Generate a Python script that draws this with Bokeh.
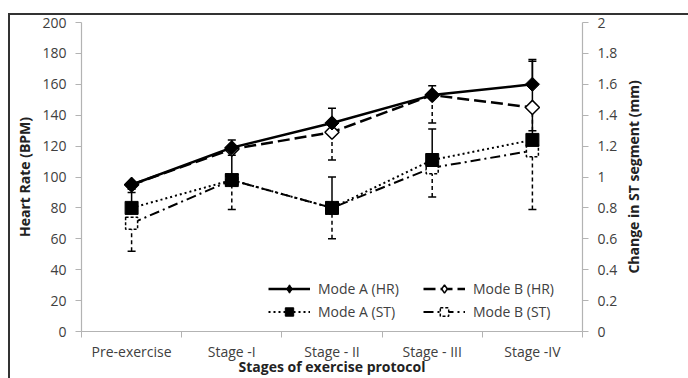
import math
from bokeh.plotting import figure
from bokeh.layouts import row
from bokeh.models import (Range1d, LinearAxis, FixedTicker, Whisker, ColumnDataSource,
                          Legend, LegendItem, TeeHead)
from bokeh.embed import file_html
from bokeh.resources import INLINE

stages = ["Pre-exercise", "Stage -I", "Stage - II", "Stage - III", "Stage -IV"]
hr_a = [95, 119, 135, 153, 160]
hr_b = [95, 118, 129, 153, 145]
st_a = [0.80, 0.98, 0.80, 1.11, 1.24]
st_b = [0.70, 0.98, 0.80, 1.06, 1.17]
hr_a_err = [2, 5, 9.5, 6, 16]        # plus error bars
hr_b_err = [3, 4, 18, 18, 15]        # minus error bars
st_a_err = [0.10, 0.20, 0.20, 0.20, 0.51]  # plus
st_b_err = [0.18, 0.19, 0.20, 0.19, 0.38]  # minus
hr_ticks = [0, 20, 40, 60, 80, 100, 120, 140, 160, 180, 200]
st_ticks = [0, 0.2, 0.4, 0.6, 0.8, 1, 1.2, 1.4, 1.6, 1.8, 2]
st_labels = ["0", "0.2", "0.4", "0.6", "0.8", "1", "1.2", "1.4", "1.6", "1.8", "2"]
left_title = "Heart Rate (BPM)"
right_title = "Change in ST segment (mm)"
x_title = "Stages of exercise protocol"

FONT = "Open Sans"
TXT = "#404040"
AX = "#b3b3b3"
TITLE_C = "#222222"

xs = [i + 0.5 for i in range(len(stages))]
bounds = list(range(len(stages) + 1))

p = figure(width=620, height=378, x_range=Range1d(0, len(stages)), y_range=Range1d(0, 200),
           output_backend="svg", toolbar_location=None,
           min_border_left=81, min_border_top=22, min_border_right=38, min_border_bottom=46)
p.extra_y_ranges = {"st": Range1d(0, 2)}
p.grid.visible = False
p.outline_line_color = None
p.border_fill_alpha = 0

# left axis
ya = p.yaxis[0]
ya.ticker = FixedTicker(ticks=hr_ticks)
ya.axis_label = left_title
# bottom axis
xa = p.xaxis[0]
xa.ticker = FixedTicker(ticks=xs, minor_ticks=bounds)
xa.major_label_overrides = {x: s for x, s in zip(xs, stages)}
xa.major_tick_line_color = None
xa.major_tick_out = 0
xa.major_tick_in = 0
xa.minor_tick_out = 6
xa.minor_tick_in = 0
xa.minor_tick_line_color = AX
xa.axis_label = x_title
xa.major_label_standoff = 4
xa.axis_label_standoff = -7
# right axis (ST)
ra = LinearAxis(y_range_name="st", ticker=FixedTicker(ticks=st_ticks),
                major_label_overrides={t: s for t, s in zip(st_ticks, st_labels)})
p.add_layout(ra, "right")

for ax in [ya, xa, ra]:
    ax.axis_line_color = AX
    ax.axis_line_width = 1.2
    ax.major_label_text_font = FONT
    ax.major_label_text_font_size = "14px"
    ax.major_label_text_color = TXT
    ax.axis_label_text_font = FONT
    ax.axis_label_text_font_size = "14px"
    ax.axis_label_text_font_style = "bold"
    ax.axis_label_text_color = TITLE_C
for ax in [ya, ra]:
    ax.major_tick_line_color = AX
    ax.major_tick_out = 6
    ax.major_tick_in = 0
    ax.minor_tick_line_color = None
    ax.major_label_standoff = 9
ya.axis_label_standoff = 5

# error bars
def whisk(y, err, plus, dash, rng):
    if plus:
        lo = list(y)
        hi = [v + e for v, e in zip(y, err)]
    else:
        lo = [v - e for v, e in zip(y, err)]
        hi = list(y)
    src = ColumnDataSource(dict(x=xs, lo=lo, hi=hi))
    head = TeeHead(size=8, line_width=1.5, line_color="black")
    w = Whisker(source=src, base="x", lower="lo", upper="hi", dimension="height",
                line_color="black", line_width=1.5, line_dash=dash,
                upper_head=head if plus else None, lower_head=None if plus else head)
    if rng:
        w.y_range_name = rng
    p.add_layout(w)

whisk(st_b, st_b_err, False, "4 3", "st")
whisk(st_a, st_a_err, True, "solid", "st")
whisk(hr_b, hr_b_err, False, "4 3", None)
whisk(hr_a, hr_a_err, True, "solid", None)

# ST series (right axis)
l_stb = p.line(xs, st_b, y_range_name="st", line_color="black", line_width=2, line_dash="10 4 2 4")
m_stb = p.scatter(xs, st_b, y_range_name="st", marker="square", size=12, fill_color="white",
                  line_color="black", line_width=1.5, line_dash="3 2")
l_sta = p.line(xs, st_a, y_range_name="st", line_color="black", line_width=2, line_dash="2 3")
m_sta = p.scatter(xs, st_a, y_range_name="st", marker="square", size=13, fill_color="black",
                  line_color="black")
# HR series (left axis): diamond proxies (for the legend key) under rotated squares
l_hrb = p.line(xs, hr_b, line_color="black", line_width=2.5, line_dash="12 5")
k_hrb = p.scatter(xs, hr_b, marker="diamond", size=11, fill_color="white",
                  line_color="black", line_width=1.5)
m_hrb = p.scatter(xs, hr_b, marker="square", angle=math.pi / 4, size=10, fill_color="white",
                  line_color="black", line_width=1.5)
l_hra = p.line(xs, hr_a, line_color="black", line_width=2.5)
k_hra = p.scatter(xs, hr_a, marker="diamond", size=11, fill_color="black", line_color="black")
m_hra = p.scatter(xs, hr_a, marker="square", angle=math.pi / 4, size=10, fill_color="black",
                  line_color="black")

# legend fills column by column: col 1 = Mode A, col 2 = Mode B
legend = Legend(items=[
    LegendItem(label="Mode A (HR)", renderers=[l_hra, k_hra]),
    LegendItem(label="Mode A (ST)", renderers=[l_sta, m_sta]),
    LegendItem(label="Mode B (HR)", renderers=[l_hrb, k_hrb]),
    LegendItem(label="Mode B (ST)", renderers=[l_stb, m_stb]),
], location=(187, 9), ncols=2, border_line_color=None, background_fill_alpha=0,
    label_text_font=FONT, label_text_font_size="14px", label_text_color=TXT,
    glyph_width=42, glyph_height=21, label_standoff=8, label_width=103,
    spacing=2, padding=0, margin=0)
p.add_layout(legend)

# narrow companion figure that carries the right-hand title (reads bottom-to-top)
p2 = figure(width=68, height=378, output_backend="svg", toolbar_location=None,
            x_range=Range1d(0, 1), y_range=Range1d(0, 2),
            min_border_left=0, min_border_top=22, min_border_right=0, min_border_bottom=46)
p2.grid.visible = False
p2.outline_line_color = None
p2.border_fill_alpha = 0
p2.background_fill_alpha = 0
p2.xaxis.visible = False
ta = p2.yaxis[0]
ta.ticker = FixedTicker(ticks=[])
ta.axis_line_color = None
ta.major_tick_line_color = None
ta.minor_tick_line_color = None
ta.major_tick_out = 0
ta.axis_label = right_title
ta.axis_label_standoff = 0
ta.axis_label_text_font = FONT
ta.axis_label_text_font_size = "14px"
ta.axis_label_text_font_style = "bold"
ta.axis_label_text_color = TITLE_C

layout = row(p, p2, styles={
    "background-color": "white",
    "background-image": "linear-gradient(#333,#333), linear-gradient(#333,#333)",
    "background-position": "8px 13px, 8px 13px",
    "background-size": "680px 2px, 2px 365px",
    "background-repeat": "no-repeat",
})

open("out.html", "w").write(file_html(layout, INLINE))
